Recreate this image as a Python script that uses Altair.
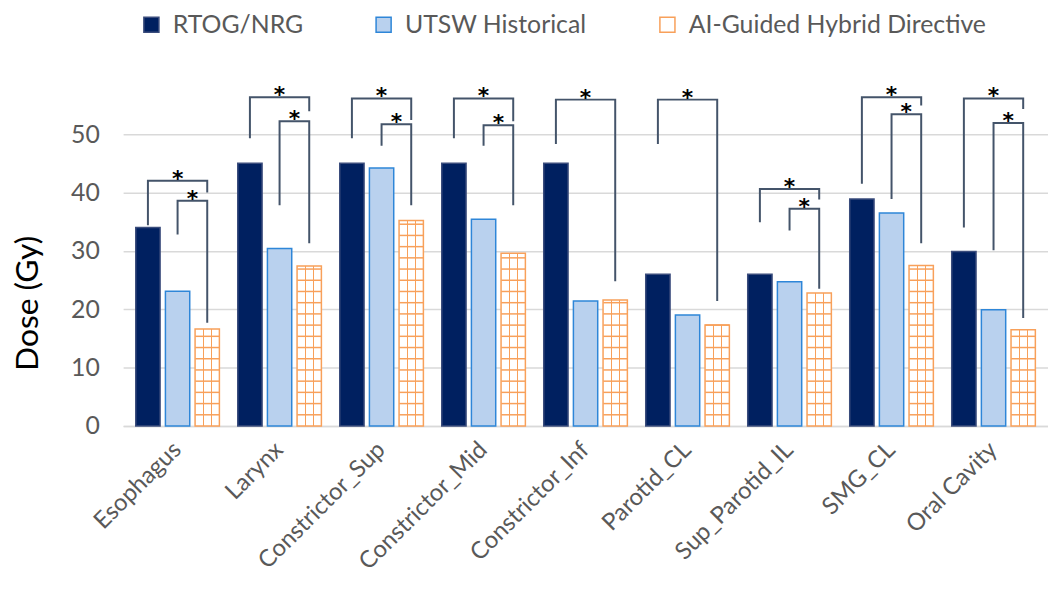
import altair as alt
import pandas as pd

categories = ["Esophagus", "Larynx", "Constrictor_Sup", "Constrictor_Mid", "Constrictor_Inf",
              "Parotid_CL", "Sup_Parotid_IL", "SMG_CL", "Oral Cavity"]
series = ["RTOG/NRG", "UTSW Historical", "AI-Guided Hybrid Directive"]
rtog = [34.0, 45.0, 45.0, 45.0, 45.0, 26.0, 26.0, 38.9, 29.9]
utsw = [23.1, 30.4, 44.2, 35.4, 21.4, 19.0, 24.7, 36.5, 19.9]
ai = [16.6, 27.4, 35.2, 29.6, 21.6, 17.3, 22.8, 27.5, 16.5]

# significance brackets: category, from-series, to-series, from-leg bottom, top, to-leg bottom (Gy)
br_cat = ["Esophagus", "Esophagus", "Larynx", "Larynx", "Constrictor_Sup", "Constrictor_Sup",
          "Constrictor_Mid", "Constrictor_Mid", "Constrictor_Inf", "Parotid_CL",
          "Sup_Parotid_IL", "Sup_Parotid_IL", "SMG_CL", "SMG_CL", "Oral Cavity", "Oral Cavity"]
br_from = [0, 1, 0, 1, 0, 1, 0, 1, 0, 0, 0, 1, 0, 1, 0, 1]
br_to = [2, 2, 2, 2, 2, 2, 2, 2, 2, 2, 2, 2, 2, 2, 2, 2]
br_from_low = [34.4, 32.8, 49.3, 37.8, 49.3, 48.0, 49.3, 48.0, 48.3, 48.3, 34.9, 33.5, 41.5, 38.9, 34.0, 30.1]
br_top = [42.0, 38.6, 56.3, 52.2, 56.1, 51.7, 56.1, 51.5, 55.9, 55.9, 40.6, 37.2, 56.3, 53.4, 56.1, 51.9]
br_to_low = [40.0, 17.7, 53.9, 31.3, 52.4, 37.8, 52.2, 37.8, 24.8, 21.4, 38.8, 23.5, 54.9, 31.3, 54.3, 18.5]

FONT = "Lato"
GRAY = "#595959"
ORANGE = "#F8A05A"

bars = pd.DataFrame({
    "cat": categories * 3,
    "series": [s for s in series for _ in categories],
    "value": rtog + utsw + ai,
})

rows = []
stars = []
for i in range(len(br_cat)):
    a, b = series[br_from[i]], series[br_to[i]]
    pts = [(a, br_from_low[i]), (a, br_top[i]), (b, br_top[i]), (b, br_to_low[i])]
    for k, (s, v) in enumerate(pts):
        rows.append({"bid": i, "ord": k, "cat": br_cat[i], "series": s, "value": v})
    stars.append({"cat": br_cat[i], "value": br_top[i],
                  "kind": "outer" if br_from[i] == 0 else "inner",
                  "series": series[1] if br_from[i] == 0 else series[2]})
brackets = pd.DataFrame(rows)
stars_df = pd.DataFrame(stars)

X = alt.X("cat:N", sort=categories, title=None,
          scale=alt.Scale(paddingInner=0.18, paddingOuter=0.124),
          axis=alt.Axis(labelAngle=-45, labelAlign="right", labelBaseline="middle",
                        labelFontSize=24, labelColor=GRAY, labelFont=FONT, labelPadding=20,
                        labelLimit=400, ticks=False, domain=True, domainColor="#D9D9D9",
                        domainWidth=1.5, grid=False))
XO = alt.XOffset("series:N", sort=series,
                 scale=alt.Scale(domain=series, paddingInner=0.18, paddingOuter=0))


def Y(field):
    return alt.Y(f"{field}:Q", title="Dose (Gy)",
                 scale=alt.Scale(domain=[0, 60], nice=False, zero=True),
                 axis=alt.Axis(values=[0, 10, 20, 30, 40, 50], grid=True, gridColor="#D9D9D9",
                               gridWidth=1.5, domain=False, ticks=False, labelFontSize=25,
                               labelColor=GRAY, labelFont=FONT, labelPadding=24,
                               titleFont=FONT, titleFontSize=32, titleFontWeight="normal",
                               titleColor="#000000", titleAngle=-90, titleX=-96, titleY=229,
                               titleAlign="center", titleBaseline="middle"))


LEG = alt.Legend(orient="none", legendX=16, legendY=-64, direction="horizontal", title=None,
                 labelFontSize=25, labelColor=GRAY, labelFont=FONT, labelLimit=500,
                 symbolType="square", symbolSize=230, symbolStrokeWidth=1.5,
                 columnPadding=68, labelOffset=9)

base_bars = alt.Chart(bars).mark_bar(strokeWidth=1.5).encode(
    x=X, xOffset=XO, y=Y("value"),
    fill=alt.Fill("series:N", sort=series,
                  scale=alt.Scale(domain=series, range=["#002060", "#B9D1EE", "#FFFFFF"]),
                  legend=LEG),
    stroke=alt.Stroke("series:N", sort=series,
                      scale=alt.Scale(domain=series, range=["#3A4C7C", "#2E86D8", ORANGE]),
                      legend=LEG),
)

T = "rgba(255,255,255,0)"
grad = alt.LinearGradient(
    gradient="linear", x1=0, x2=1, y1=0, y2=0,
    stops=[alt.GradientStop(offset=0, color=T), alt.GradientStop(offset=0.31, color=T),
           alt.GradientStop(offset=0.31, color=ORANGE), alt.GradientStop(offset=0.37, color=ORANGE),
           alt.GradientStop(offset=0.37, color=T), alt.GradientStop(offset=0.64, color=T),
           alt.GradientStop(offset=0.64, color=ORANGE), alt.GradientStop(offset=0.70, color=ORANGE),
           alt.GradientStop(offset=0.70, color=T), alt.GradientStop(offset=1, color=T)])

ai_vert = alt.Chart(bars).transform_filter(
    alt.datum.series == series[2]
).mark_bar(fill=grad, strokeWidth=0).encode(x=X, xOffset=XO, y=Y("value"))

ai_horiz = alt.Chart(bars).transform_filter(
    alt.datum.series == series[2]
).transform_calculate(
    lv="sequence(1.92, datum.value, 1.92)"
).transform_flatten(["lv"]).mark_tick(
    color=ORANGE, thickness=1.5, size=24, orient="horizontal", opacity=1
).encode(x=X, xOffset=XO, y=Y("lv"))

br_lines = alt.Chart(brackets).mark_line(color="#44546A", strokeWidth=2).encode(
    x=X, xOffset=XO, y=Y("value"), detail="bid:N", order="ord:Q")

star_outer = alt.Chart(stars_df).transform_filter(alt.datum.kind == "outer").mark_text(
    text="*", font="DejaVu Sans", fontSize=22, fontWeight="bold", color="#000000",
    baseline="alphabetic", dy=5
).encode(x=X, xOffset=XO, y=Y("value"))

star_inner = alt.Chart(stars_df).transform_filter(alt.datum.kind == "inner").mark_text(
    text="*", font="DejaVu Sans", fontSize=22, fontWeight="bold", color="#000000",
    baseline="alphabetic", dy=5, dx=-15
).encode(x=X, xOffset=XO, y=Y("value"))

chart = alt.layer(base_bars, ai_vert, ai_horiz, br_lines, star_outer, star_inner).properties(
    width=932, height=353,
    autosize=alt.AutoSizeParams(type="none"),
    padding={"left": 116, "top": 66, "right": 0, "bottom": 157},
).configure_view(stroke=None)

chart.save("out.html", embed_options={"renderer": "svg", "actions": False})
